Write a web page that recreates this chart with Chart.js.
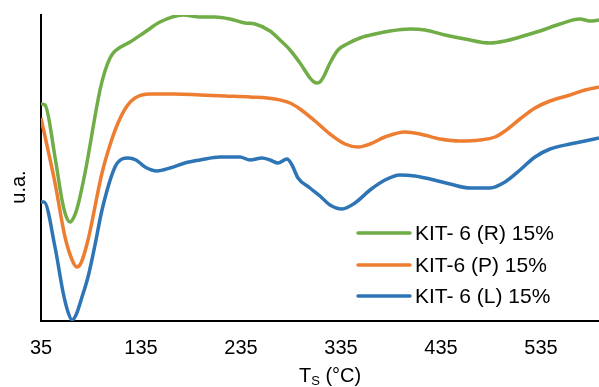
<!DOCTYPE html>
<html>
<head>
<meta charset="utf-8">
<script src="https://cdn.jsdelivr.net/npm/chart.js@4/dist/chart.umd.min.js"></script>
<style>
  html, body { margin: 0; padding: 0; background: #fff; }
  #wrap { width: 599px; height: 387px; }
</style>
</head>
<body>
<div id="wrap"><canvas id="tpdChart" width="599" height="387"></canvas></div>
<script>
// temperatures (°C) and signal (arbitrary units)
const tempR = [35, 39, 49, 56, 60, 64, 68, 72, 79, 94, 99, 104, 109, 124, 139, 154, 177, 194, 209, 224, 239, 249, 264, 274, 284, 294, 304, 308, 311, 314, 318, 324, 332, 341, 354, 369, 384, 404, 419, 439, 459, 484, 499, 514, 534, 554, 574, 584, 593];
const valR  = [217, 216, 164, 121, 105, 99, 104, 116, 148, 231, 250, 263, 270, 279, 289, 299, 306, 304, 304, 302, 298, 297, 290, 281, 271, 258, 243, 239, 238, 239, 245, 258, 271, 277, 283, 287, 290, 292, 291, 286, 282, 278, 280, 284, 290, 297, 302, 300, 301];

const tempP = [35, 42, 49, 59, 67, 71, 75, 82, 96, 104, 112, 121, 129, 144, 169, 194, 219, 244, 269, 284, 294, 309, 324, 339, 352, 364, 379, 399, 414, 434, 454, 474, 489, 499, 514, 529, 544, 564, 579, 593];
const valP  = [203, 171, 138, 84, 59, 54, 58, 81, 148, 176, 198, 215, 223, 227, 227, 226, 225, 224, 222, 218, 212, 200, 187, 177, 174, 177, 184, 189, 187, 182, 180, 181, 184, 190, 202, 213, 220, 226, 231, 234];

const tempL = [35, 38, 49, 57, 62, 66, 70, 76, 82, 89, 96, 109, 116, 122, 130, 139, 151, 164, 179, 194, 214, 234, 244, 256, 264, 272, 281, 286, 292, 304, 314, 324, 336, 349, 364, 379, 394, 409, 424, 444, 464, 484, 499, 514, 529, 544, 564, 579, 593];
const valL  = [119, 119, 74, 29, 9, 1, 6, 24, 44, 76, 111, 154, 162, 163, 161, 154, 150, 153, 158, 161, 164, 164, 161, 163, 161, 158, 162, 156, 143, 133, 125, 116, 112, 118, 131, 141, 146, 145, 142, 137, 133, 133, 139, 151, 164, 172, 177, 180, 183];

const seriesLabels = ["KIT- 6 (R) 15%", "KIT-6 (P) 15%", "KIT- 6 (L) 15%"];
const seriesColors = ["#70AD47", "#ED7D31", "#2E75B6"];
const xTicks = [35, 135, 235, 335, 435, 535];

const FONT = "'Liberation Sans', Arial, sans-serif";

function pts(xs, ys) {
  return xs.map((x, i) => ({ x: x, y: ys[i] }));
}

const legendAndTitle = {
  id: "legendAndTitle",
  afterDraw(chart) {
    const ctx = chart.ctx;
    ctx.save();
    // legend inside plot, lower right
    const rows = [233, 265, 296];
    chart.data.datasets.forEach((ds, i) => {
      ctx.strokeStyle = ds.borderColor;
      ctx.lineWidth = 3.5;
      ctx.lineCap = "round";
      ctx.beginPath();
      ctx.moveTo(358, rows[i]);
      ctx.lineTo(410, rows[i]);
      ctx.stroke();
      ctx.fillStyle = "#000";
      ctx.font = "21px " + FONT;
      ctx.textBaseline = "middle";
      ctx.textAlign = "left";
      ctx.fillText(ds.label, 415, rows[i] + 1);
    });

    // x axis title: T with subscript S
    ctx.fillStyle = "#000";
    ctx.textBaseline = "alphabetic";
    ctx.textAlign = "left";
    ctx.font = "20px " + FONT;
    let x = 299;
    const base = 382;
    ctx.fillText("T", x, base);
    x += ctx.measureText("T").width;
    ctx.font = "13px " + FONT;
    ctx.fillText("S", x, base + 3);
    x += ctx.measureText("S").width;
    ctx.font = "20px " + FONT;
    ctx.fillText(" (°C)", x, base);

    // y axis title, rotated
    ctx.translate(25, 187);
    ctx.rotate(-Math.PI / 2);
    ctx.textAlign = "center";
    ctx.textBaseline = "alphabetic";
    ctx.font = "20px " + FONT;
    ctx.fillText("u.a.", 0, 0);
    ctx.restore();
  }
};

new Chart(document.getElementById("tpdChart").getContext("2d"), {
  type: "line",
  data: {
    datasets: [
      { label: seriesLabels[0], data: pts(tempR, valR), borderColor: seriesColors[0] },
      { label: seriesLabels[1], data: pts(tempP, valP), borderColor: seriesColors[1] },
      { label: seriesLabels[2], data: pts(tempL, valL), borderColor: seriesColors[2] }
    ].map(d => Object.assign(d, {
      borderWidth: 3.5,
      pointRadius: 0,
      fill: false,
      tension: 0.4,
      cubicInterpolationMode: "monotone"
    }))
  },
  options: {
    responsive: false,
    animation: false,
    layout: { padding: { top: 15, right: 0, left: 0, bottom: 0 } },
    plugins: {
      legend: { display: false },
      tooltip: { enabled: false }
    },
    scales: {
      x: {
        type: "linear",
        min: 35,
        max: 593,
        afterBuildTicks: s => { s.ticks = xTicks.map(v => ({ value: v })); },
        afterFit: s => { s.height = 66; },
        grid: { display: false, drawTicks: false },
        border: { display: true, color: "#000", width: 2 },
        ticks: {
          color: "#000",
          padding: 15,
          maxRotation: 0,
          font: { family: FONT, size: 20 }
        }
      },
      y: {
        min: 0,
        max: 306,
        afterFit: s => { s.width = 41; },
        grid: { display: false, drawTicks: false },
        border: { display: true, color: "#000", width: 2 },
        ticks: { display: false }
      }
    }
  },
  plugins: [legendAndTitle]
});
</script>
</body>
</html>
